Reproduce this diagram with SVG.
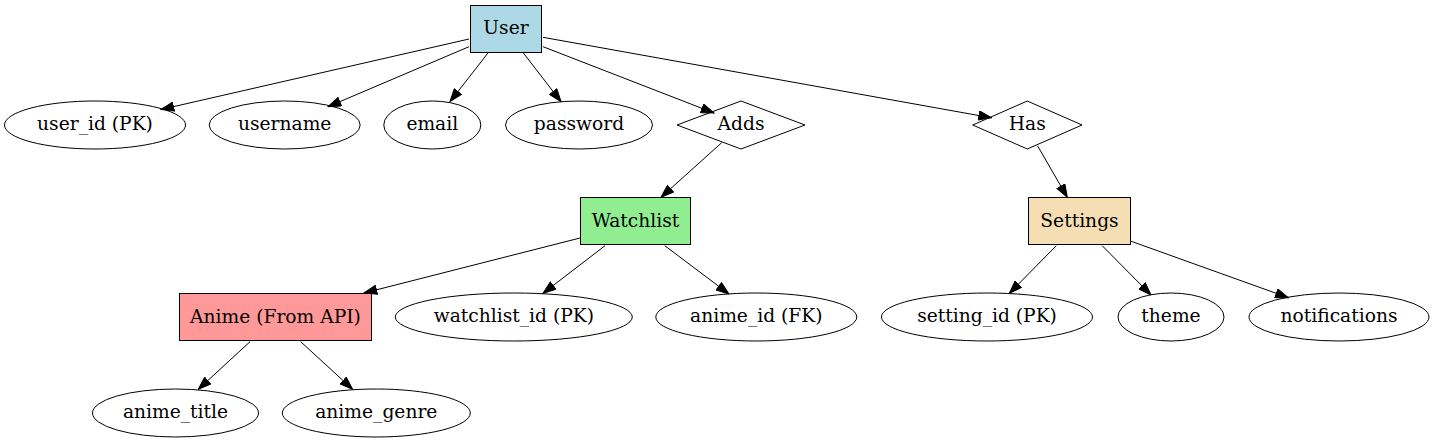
<svg xmlns="http://www.w3.org/2000/svg" width="1435" height="443" viewBox="0 0 1435 443">
<style>
.n{stroke:#000;stroke-width:1}
.e{fill:none;stroke:#000;stroke-width:1}
.edges line{stroke:#000;stroke-width:1;marker-end:url(#arr)}
text{font-family:"DejaVu Serif","Liberation Serif",serif;font-size:18.67px;text-anchor:middle;fill:#000}
</style>
<defs>
<marker id="arr" markerUnits="userSpaceOnUse" viewBox="0 0 14 10" refX="13.3" refY="5" markerWidth="14" markerHeight="10" orient="auto">
<path d="M0.5,0.4 L13.3,5 L0.5,9.6 z" fill="#000" stroke="#000" stroke-width="1"/>
</marker>
</defs>
<rect width="1435" height="443" fill="#fff"/>
<g id="connectors" class="edges">
<line x1="469" y1="39" x2="161" y2="109.5"/>
<line x1="469" y1="46.7" x2="328" y2="106.7"/>
<line x1="488" y1="53" x2="450" y2="101.7"/>
<line x1="523.4" y1="53" x2="561" y2="101.7"/>
<line x1="543" y1="46.7" x2="714" y2="113"/>
<line x1="543" y1="37.3" x2="991.5" y2="117.8"/>
<line x1="721.7" y1="142.7" x2="661" y2="197.3"/>
<line x1="1037.7" y1="146" x2="1067.3" y2="197.3"/>
<line x1="580" y1="238" x2="364" y2="293"/>
<line x1="605" y1="245.7" x2="543" y2="293.3"/>
<line x1="664.8" y1="245.7" x2="729" y2="294"/>
<line x1="250" y1="341.7" x2="198.3" y2="389.3"/>
<line x1="300.7" y1="341.7" x2="352.6" y2="389.3"/>
<line x1="1056.3" y1="245.7" x2="1009.4" y2="293.3"/>
<line x1="1102.2" y1="245.7" x2="1151" y2="295"/>
<line x1="1130.4" y1="241" x2="1288.4" y2="297.7"/>
</g>
<g id="User"><rect class="n" x="470.5" y="5.5" width="71" height="47" fill="#add8e6"/><text x="506" y="34.3">User</text></g>
<g id="user_id"><ellipse class="e" cx="95" cy="125" rx="90.5" ry="24"/><text x="95" y="130.3">user_id (PK)</text></g>
<g id="username"><ellipse class="e" cx="284.7" cy="125" rx="75.5" ry="24"/><text x="284.7" y="130.3">username</text></g>
<g id="email"><ellipse class="e" cx="432.3" cy="125" rx="48.5" ry="24"/><text x="432.3" y="130.3">email</text></g>
<g id="password"><ellipse class="e" cx="579" cy="125" rx="73.5" ry="24"/><text x="579" y="130.3">password</text></g>
<g id="Adds"><polygon class="e" points="741,101 805,125 741,149 677,125"/><text x="741" y="130.3">Adds</text></g>
<g id="Has"><polygon class="e" points="1027.3,101 1082,125 1027.3,149 972.7,125"/><text x="1027.3" y="130.3">Has</text></g>
<g id="Watchlist"><rect class="n" x="580.5" y="197.5" width="110" height="47" fill="#90ee90"/><text x="635.5" y="226.5">Watchlist</text></g>
<g id="Settings"><rect class="n" x="1028.5" y="197.5" width="102" height="47" fill="#f5deb3"/><text x="1079.5" y="226.5">Settings</text></g>
<g id="Anime"><rect class="n" x="179.5" y="293.5" width="192" height="47" fill="#ff9999"/><text x="275.5" y="322.5">Anime (From API)</text></g>
<g id="watchlist_id"><ellipse class="e" cx="513.8" cy="317" rx="118.5" ry="24"/><text x="513.8" y="322.3">watchlist_id (PK)</text></g>
<g id="anime_id"><ellipse class="e" cx="756.3" cy="317" rx="100.5" ry="24"/><text x="756.3" y="322.3">anime_id (FK)</text></g>
<g id="setting_id"><ellipse class="e" cx="987" cy="317" rx="105.5" ry="24"/><text x="987" y="322.3">setting_id (PK)</text></g>
<g id="theme"><ellipse class="e" cx="1171" cy="317" rx="53" ry="24"/><text x="1171" y="322.3">theme</text></g>
<g id="notifications"><ellipse class="e" cx="1339" cy="317" rx="90" ry="24"/><text x="1339" y="322.3">notifications</text></g>
<g id="anime_title"><ellipse class="e" cx="175.5" cy="413" rx="83" ry="24"/><text x="175.5" y="418.3">anime_title</text></g>
<g id="anime_genre"><ellipse class="e" cx="376.3" cy="413" rx="94" ry="24"/><text x="376.3" y="418.3">anime_genre</text></g>
</svg>
